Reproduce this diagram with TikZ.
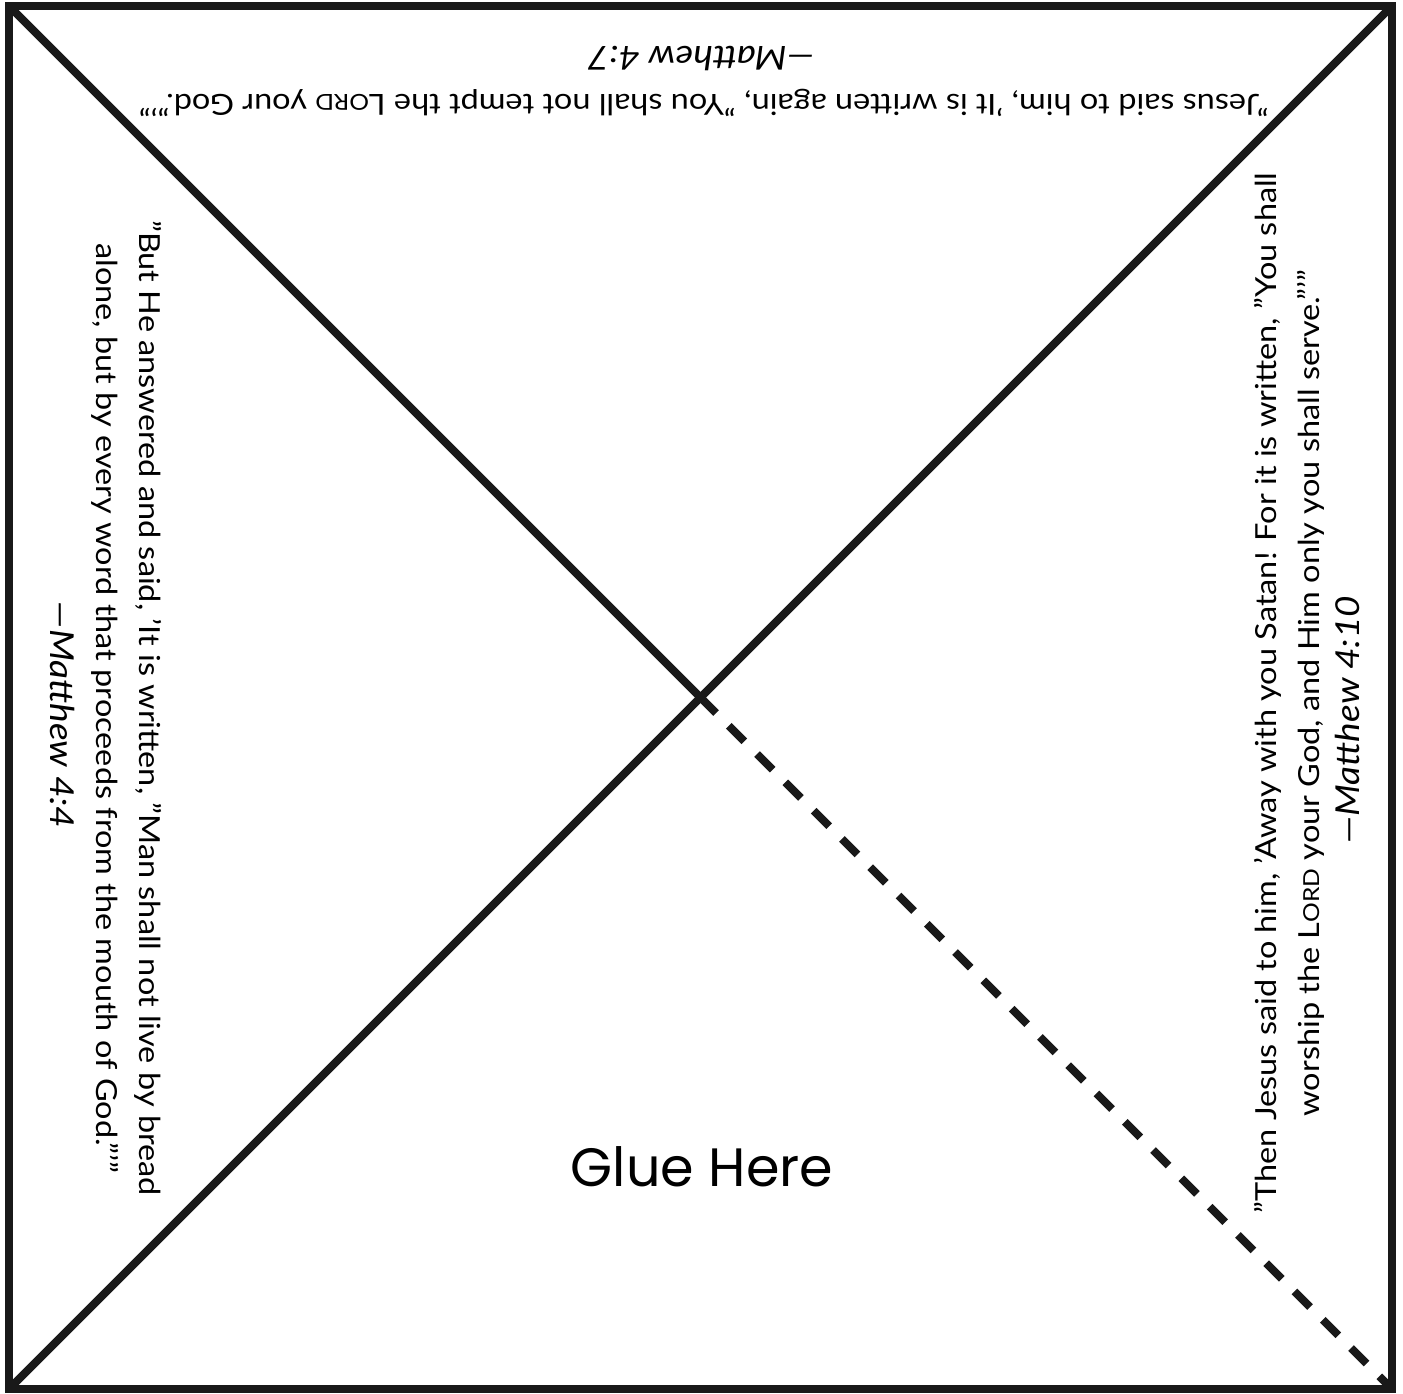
\documentclass[tikz,border=0pt]{standalone}
\usepackage{fontspec}
\setmainfont{Lato}[FakeStretch=1.12]
\newfontfamily\gluefont{Poppins}
\usetikzlibrary{positioning}
\newcommand{\Lord}{L{\fontsize{11}{21.5}\selectfont ORD}}
\tikzset{
  cutline/.style={line width=4pt, black!90},
  foldline/.style={cutline, dash pattern=on 11pt off 9pt},
  verse/.style={font=\fontsize{14.5}{21.5}\selectfont, align=center, inner sep=0pt},
  ref/.style={font=\fontsize{16.5}{21.5}\selectfont\itshape, inner sep=0pt},
}

\begin{document}
\begin{tikzpicture}[x=0.5pt, y=-0.5pt]
  \useasboundingbox (0,0) rectangle (1403,1393);
  \fill[white] (0,0) rectangle (1403,1393);
  % corners and middle
  \coordinate (tl) at (9,6);
  \coordinate (tr) at (1392,6);
  \coordinate (bl) at (9,1389);
  \coordinate (br) at (1392,1389);
  \coordinate (mid) at (700.5,697.5);
  \draw[cutline] (tl) rectangle (br);
  \draw[cutline] (tl) -- (mid);
  \draw[cutline] (bl) -- (mid) -- (tr);
  \draw[foldline] (mid) -- (br);

  % top flap, upside down
  \node[verse, rotate=180] (topverse) at (704,103)
    {"Jesus said to him, 'It is written again, "You shall not tempt the \Lord{} your God."'"};
  \node[ref, rotate=180] (topref) at (701,59) {---Matthew 4:7};

  % left flap
  \node[verse, rotate=-90] (leftverse) at (127,708)
    {"But He answered and said, 'It is written, "Man shall not live by bread\\
     alone, but by every word that proceeds from the mouth of God."'"};
  \node[ref, rotate=-90] (leftref) at (63,715) {---Matthew 4:4};

  % right flap
  \node[verse, rotate=90] (rightverse) at (1289,693)
    {"Then Jesus said to him, 'Away with you Satan! For it is written, "You shall\\
     worship the \Lord{} your God, and Him only you shall serve."'"};
  \node[ref, rotate=90] (rightref) at (1347,720) {---Matthew 4:10};

  % bottom flap
  \node[font=\gluefont\fontsize{27}{32}\selectfont, inner sep=0pt] (glue) at (702,1167) {Glue Here};
\end{tikzpicture}
\end{document}
